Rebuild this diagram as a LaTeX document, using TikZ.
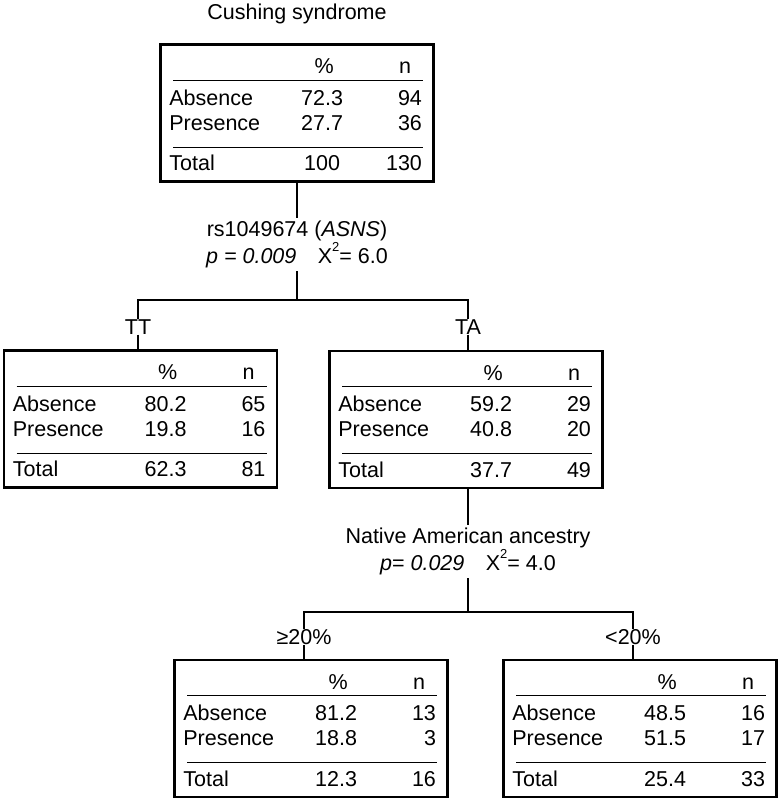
\documentclass[tikz,border=0pt]{standalone}
\usepackage{fontspec}
\setmainfont{Liberation Sans}
\usepackage{tikz}
\usetikzlibrary{calc}
\tikzstyle{tbox} = [draw,line width=2.7pt,minimum width=273pt,minimum height=137pt,inner sep=0pt]
\tikzstyle{conn} = [line width=2.6pt]
\tikzstyle{rule} = [line width=1.2pt]
\tikzstyle{cell} = [inner sep=0pt]
\tikzstyle{lbl} = [inner sep=3pt,align=center]
\newcommand{\sqx}{X\raisebox{1.1ex}{\fontsize{13}{13}\selectfont 2}}

% table inside a box: name, %abs, n abs, %pres, n pres, %total, n total
\newcommand{\celltable}[7]{%
\node[cell,anchor=base] (#1-hp) at ($(#1.north west)+(165,30.5)$) {\%};
\node[cell,anchor=base] (#1-hn) at ($(#1.north west)+(246,30.5)$) {n};
\draw[rule] ($(#1.north west)+(14,37)$) -- ($(#1.north west)+(264,37)$);
\node[cell,anchor=base west] (#1-a) at ($(#1.north west)+(10,62)$) {Absence};
\node[cell,anchor=base] (#1-ap) at ($(#1.north west)+(163,62)$) {#2};
\node[cell,anchor=base east] (#1-an) at ($(#1.north west)+(263,62)$) {#3};
\node[cell,anchor=base west] (#1-p) at ($(#1.north west)+(10,87)$) {Presence};
\node[cell,anchor=base] (#1-pp) at ($(#1.north west)+(163,87)$) {#4};
\node[cell,anchor=base east] (#1-pn) at ($(#1.north west)+(263,87)$) {#5};
\draw[rule] ($(#1.north west)+(14,104)$) -- ($(#1.north west)+(264,104)$);
\node[cell,anchor=base west] (#1-t) at ($(#1.north west)+(10,127.5)$) {Total};
\node[cell,anchor=base] (#1-tp) at ($(#1.north west)+(163,127.5)$) {#6};
\node[cell,anchor=base east] (#1-tn) at ($(#1.north west)+(263,127.5)$) {#7};
}

\begin{document}
\begin{tikzpicture}[x=1pt,y=-1pt,font=\fontsize{21.5}{25}\selectfont]
\useasboundingbox[fill=white] (0,0) rectangle (782,802);

\node[cell] (title) at (297,14) {Cushing syndrome};

% boxes
\node[tbox] (root) at (297,113) {};
\node[tbox] (left) at (140.5,419) {};
\node[tbox] (right) at (466,419.5) {};
\node[tbox] (bleft) at (311,728.5) {};
\node[tbox] (bright) at (640,728.5) {};

\celltable{root}{72.3}{94}{27.7}{36}{100}{130}
\celltable{left}{80.2}{65}{19.8}{16}{62.3}{81}
\celltable{right}{59.2}{29}{40.8}{20}{37.7}{49}
\celltable{bleft}{81.2}{13}{18.8}{3}{12.3}{16}
\celltable{bright}{48.5}{16}{51.5}{17}{25.4}{33}

% first split
\node[lbl] (s1) at (297,244.5) {rs1049674 (\textit{ASNS})\\\textit{p = 0.009}\quad \sqx= 6.0};
\coordinate (j1) at (297,300);
\node[cell] (tt) at (138,327) {TT};
\node[cell] (ta) at (468,327) {TA};

\draw[conn] (root) -- (s1);
\draw[conn] (s1) -- (j1);
\draw[conn] (tt) |- (j1) -| (ta);
\draw[conn] (tt.south) -- (tt.south |- left.north);
\draw[conn] (ta.south) -- (ta.south |- right.north);

% second split
\node[lbl] (s2) at (468,551.5) {Native American ancestry\\\textit{p}= \textit{0.029}\quad \sqx= 4.0};
\coordinate (j2) at (468,612);
\node[cell] (ge) at (304,637) {≥20\%};
\node[cell] (lt) at (633,637) {<20\%};

\draw[conn] (ta.south |- right.south) -- (s2);
\draw[conn] (s2) -- (j2);
\draw[conn] (ge) |- (j2) -| (lt);
\draw[conn] (ge.south) -- (ge.south |- bleft.north);
\draw[conn] (lt.south) -- (lt.south |- bright.north);
\end{tikzpicture}
\end{document}
